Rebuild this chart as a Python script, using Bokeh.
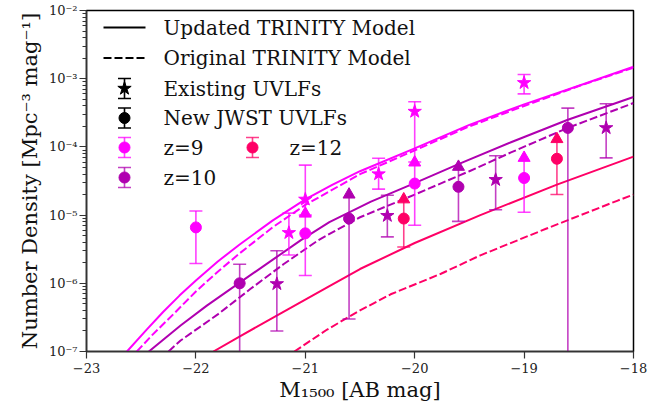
from bokeh.plotting import figure
from bokeh.models import Range1d, LinearScale, CustomJSTickFormatter, FixedTicker
from bokeh.core.properties import value
from bokeh.embed import file_html
from bokeh.resources import INLINE

# ---------------- model curves (M_1500, number density) ----------------
z9_upd_M = [-22.63, -22.45, -22.3, -22.15, -22.0, -21.8, -21.6, -21.3, -21.0, -20.75, -20.5,
            -20.0, -19.5, -19.0, -18.5, -18.0]
z9_upd_N = [1.0e-7, 2.09e-7, 3.8e-7, 6.6e-7, 1.1e-6, 2.09e-6, 3.7e-6, 8.3e-6, 1.7e-5, 2.8e-5,
            4.4e-5, 9.5e-5, 2.1e-4, 4.2e-4, 7.9e-4, 1.5e-3]
z9_org_M = [-22.54, -22.4, -22.2, -22.0, -21.8, -21.6, -21.3, -21.0, -20.5, -20.0, -19.5, -19.0,
            -18.5, -18.0]
z9_org_N = [1.0e-7, 1.74e-7, 3.6e-7, 7.6e-7, 1.48e-6, 2.75e-6, 6.6e-6, 1.41e-5, 3.98e-5, 8.9e-5,
            2.0e-4, 3.98e-4, 7.8e-4, 1.45e-3]

z10_upd_M = [-22.43, -22.14, -21.9, -21.59, -21.3, -21.04, -20.78, -20.4, -20.0, -19.6, -19.12,
             -18.6, -18.0]
z10_upd_N = [1.0e-7, 2.4e-7, 4.7e-7, 1.05e-6, 2.2e-6, 4.3e-6, 7.9e-6, 1.58e-5, 2.95e-5, 5.6e-5,
             1.17e-4, 2.5e-4, 5.4e-4]
z10_org_M = [-22.25, -22.14, -21.8, -21.5, -21.2, -20.88, -20.5, -20.0, -19.5, -19.12, -18.6, -18.0]
z10_org_N = [1.0e-7, 1.45e-7, 3.5e-7, 8.3e-7, 1.9e-6, 4.3e-6, 9.3e-6, 2.0e-5, 4.4e-5, 8.3e-5,
             1.9e-4, 4.4e-4]

z12_upd_M = [-21.84, -21.59, -21.2, -20.8, -20.5, -20.0, -19.4, -18.7, -18.0]
z12_upd_N = [1.0e-7, 1.7e-7, 3.8e-7, 8.7e-7, 1.62e-6, 3.9e-6, 1.0e-5, 2.8e-5, 7.2e-5]
z12_org_M = [-21.10, -20.8, -20.5, -20.22, -19.76, -19.4, -18.8, -18.15, -18.0]
z12_org_N = [1.0e-7, 2.1e-7, 4.0e-7, 6.9e-7, 1.38e-6, 2.57e-6, 6.3e-6, 1.62e-5, 2.0e-5]

# ---------------- observed UVLFs ----------------
# Existing UVLFs (stars)
z9_ex_M = [-21.15, -21.0, -20.33, -20.0, -19.0]
z9_ex_N = [5.5e-6, 1.7e-5, 4.0e-5, 3.3e-4, 8.7e-4]
z9_ex_hi = [1.07e-5, 5.4e-5, 6.8e-5, 4.6e-4, 1.15e-3]
z9_ex_lo = [2.6e-6, 1.0e-5, 2.4e-5, 6.0e-5, 6.0e-4]

z10_ex_M = [-21.26, -20.25, -19.26, -18.25]
z10_ex_N = [9.8e-7, 9.8e-6, 3.3e-5, 1.9e-4]
z10_ex_hi = [3.0e-6, 1.95e-5, 7.4e-5, 4.3e-4]
z10_ex_lo = [2.0e-7, 4.8e-6, 1.2e-5, 6.9e-5]

# New JWST UVLFs (circles); lolim = lower limit (upper end drawn as caret)
z9_new_M = [-22.0, -21.0, -20.0, -19.0]
z9_new_N = [6.6e-6, 5.4e-6, 2.9e-5, 3.5e-5]
z9_new_hi = [1.15e-5, 1.05e-5, 5.9e-5, 6.9e-5]
z9_new_lo = [1.95e-6, 1.3e-6, 7.1e-6, 1.1e-5]
z9_new_lolim = [False, True, True, True]

z10_new_M = [-21.6, -20.6, -19.6, -18.6]
z10_new_N = [1.0e-6, 8.9e-6, 2.6e-5, 1.9e-4]
z10_new_hi = [1.9e-6, 2.0e-5, 5.1e-5, 3.7e-4]
z10_new_lo = [1.0e-8, 3.0e-7, 8.1e-6, 1.0e-8]
z10_new_lolim = [False, True, True, False]

z12_new_M = [-20.1, -18.7]
z12_new_N = [8.9e-6, 6.7e-5]
z12_new_hi = [1.7e-5, 1.3e-4]
z12_new_lo = [3.4e-6, 2.0e-5]
z12_new_lolim = [True, True]

x_ticks = [-23, -22, -21, -20, -19, -18]
y_ticks = [1e-7, 1e-6, 1e-5, 1e-4, 1e-3, 1e-2]

C9, C10, C12 = "#FF00FF", "#B000B0", "#FF0066"
FONT = "DejaVu Serif"

FW, FH = 547, 341
p = figure(frame_width=FW, frame_height=FH,
           min_border_left=86, min_border_right=38, min_border_top=10, min_border_bottom=54,
           x_range=Range1d(-23, -18), y_range=Range1d(1e-7, 1e-2), y_axis_type="log",
           output_backend="svg", toolbar_location=None,
           background_fill_color="white", border_fill_color="white")
p.grid.visible = False
p.outline_line_color = "black"
p.outline_line_width = 1.5

# pixel coordinate system over the frame (for the legend)
p.extra_x_ranges["px"] = Range1d(0, FW)
p.extra_y_ranges["py"] = Range1d(FH, 0)
p.extra_x_scales["px"] = LinearScale()
p.extra_y_scales["py"] = LinearScale()

# axes
minor = [k * 10.0 ** e for e in range(-8, -1) for k in range(2, 10)]
p.yaxis.ticker = FixedTicker(ticks=y_ticks, minor_ticks=minor)
p.xaxis.ticker = FixedTicker(ticks=x_ticks, minor_ticks=[])
p.yaxis.formatter = CustomJSTickFormatter(code="""
const sup = {'-':'\u207b','0':'\u2070','1':'\u00b9','2':'\u00b2','3':'\u00b3','4':'\u2074','5':'\u2075','6':'\u2076','7':'\u2077','8':'\u2078','9':'\u2079'};
const e = Math.round(Math.log10(tick));
return '10' + String(e).split('').map(c => sup[c]).join('');
""")
p.xaxis.formatter = CustomJSTickFormatter(code="""
return (tick < 0 ? '\u2212' : '') + Math.abs(tick).toFixed(0);
""")
for ax in (p.xaxis[0], p.yaxis[0]):
    ax.axis_line_color = "#333333"
    ax.axis_line_width = 1.5
    ax.major_tick_line_color = "#333333"
    ax.minor_tick_line_color = "#333333"
    ax.major_tick_in = 0
    ax.major_tick_out = 7
    ax.minor_tick_in = 0
    ax.minor_tick_out = 4
    ax.major_tick_line_width = 1.2
    ax.minor_tick_line_width = 1
    ax.major_label_text_font = FONT
    ax.major_label_text_font_size = "13px"
    ax.major_label_text_color = "#222222"
    ax.axis_label_text_font = FONT
    ax.axis_label_text_font_style = "normal"
    ax.axis_label_text_color = "#111111"
p.xaxis.axis_label = "M\u2081\u2085\u2080\u2080 [AB mag]"
p.xaxis.axis_label_text_font_size = "21px"
p.xaxis.major_label_standoff = 4
p.xaxis.axis_label_standoff = 2
p.yaxis.axis_label = "Number Density [Mpc\u207b\u00b3 mag\u207b\u00b9]"
p.yaxis.axis_label_text_font_size = "21px"
p.yaxis.major_label_standoff = 2
p.yaxis.axis_label_standoff = 4

# model lines
DASH = "8 3"
for M, N, col, dash in [(z9_upd_M, z9_upd_N, C9, "solid"), (z9_org_M, z9_org_N, C9, DASH),
                        (z10_upd_M, z10_upd_N, C10, "solid"), (z10_org_M, z10_org_N, C10, DASH),
                        (z12_upd_M, z12_upd_N, C12, "solid"), (z12_org_M, z12_org_N, C12, DASH)]:
    p.line(M, N, line_color=col, line_width=2, line_dash=dash, line_join="round")


def errorbars(M, N, hi, lo, col, marker, size, lolim=None):
    if lolim is None:
        lolim = [False] * len(M)
    p.segment(x0=M, y0=lo, x1=M, y1=hi, line_color=col, line_width=1.6, line_alpha=0.75)
    p.scatter(M, lo, marker="dash", size=13, line_color=col, line_width=1.6, line_alpha=0.75)
    cm = [m for m, l in zip(M, lolim) if not l]
    ch = [h for h, l in zip(hi, lolim) if not l]
    if cm:
        p.scatter(cm, ch, marker="dash", size=13, line_color=col, line_width=1.6, line_alpha=0.75)
    tm = [m for m, l in zip(M, lolim) if l]
    th = [h for h, l in zip(hi, lolim) if l]
    if tm:
        p.scatter(tm, th, marker="triangle", size=12, fill_color=col, line_color=col)
    p.scatter(M, N, marker=marker, size=size, fill_color=col, line_color=col)


errorbars(z9_ex_M, z9_ex_N, z9_ex_hi, z9_ex_lo, C9, "star", 14)
errorbars(z10_ex_M, z10_ex_N, z10_ex_hi, z10_ex_lo, C10, "star", 14)
errorbars(z9_new_M, z9_new_N, z9_new_hi, z9_new_lo, C9, "circle", 11, z9_new_lolim)
errorbars(z10_new_M, z10_new_N, z10_new_hi, z10_new_lo, C10, "circle", 11, z10_new_lolim)
errorbars(z12_new_M, z12_new_N, z12_new_hi, z12_new_lo, C12, "circle", 11, z12_new_lolim)

# ---------------- legend (drawn in frame pixel coordinates) ----------------
LX0, LX1, LMX, LTX = 17, 59, 38, 77
rows = [17, 47.5, 78, 107.5, 137, 167]
kw = dict(x_range_name="px", y_range_name="py")
p.segment(x0=[LX0], y0=[rows[0]], x1=[LX1], y1=[rows[0]], line_color="black", line_width=2, **kw)
p.segment(x0=[LX0], y0=[rows[1]], x1=[LX1], y1=[rows[1]], line_color="black", line_width=2,
          line_dash=DASH, **kw)


def leg_marker(x, y, col, marker, size, alpha):
    p.segment(x0=[x], y0=[y - 10], x1=[x], y1=[y + 10], line_color=col, line_width=1.6,
              line_alpha=alpha, **kw)
    p.scatter([x, x], [y - 10, y + 10], marker="dash", size=13, line_color=col, line_width=1.6,
              line_alpha=alpha, **kw)
    p.scatter([x], [y], marker=marker, size=size, fill_color=col, line_color=col, **kw)


leg_marker(LMX, rows[2], "black", "star", 14, 1.0)
leg_marker(LMX, rows[3], "black", "circle", 11, 1.0)
leg_marker(LMX, rows[4], C9, "circle", 11, 0.75)
leg_marker(LMX, rows[5], C10, "circle", 11, 0.75)
leg_marker(166, rows[4], C12, "circle", 11, 0.75)

labels = ["Updated TRINITY Model", "Original TRINITY Model", "Existing UVLFs", "New JWST UVLFs",
          "z=9", "z=10"]
p.text(x=[LTX] * len(labels), y=rows, text=labels, text_font=value(FONT), text_font_size="20px",
       text_baseline="middle", text_color="#111111", **kw)
p.text(x=[203], y=[rows[4]], text=["z=12"], text_font=value(FONT), text_font_size="20px",
       text_baseline="middle", text_color="#111111", **kw)

with open("out.html", "w", encoding="utf-8") as f:
    f.write(file_html(p, INLINE))
